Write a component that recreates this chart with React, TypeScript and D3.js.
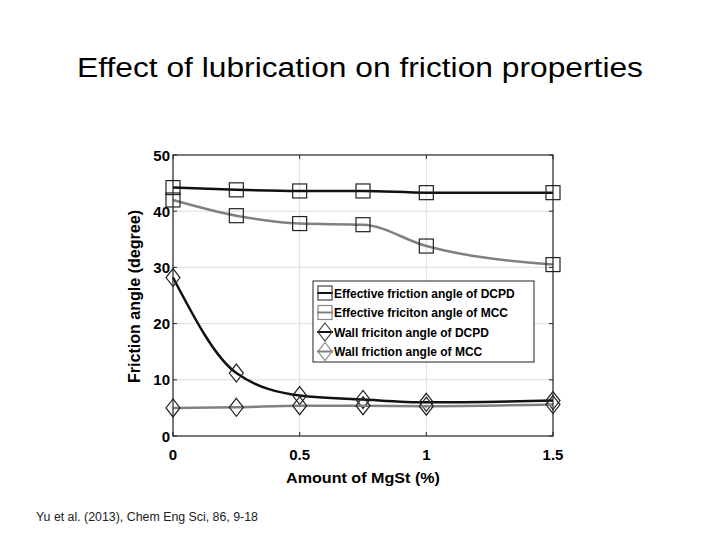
import React from 'react';
import * as d3 from 'd3';

const mgst = [0, 0.25, 0.5, 0.75, 1, 1.5];
const effDcpd = [44.2, 43.8, 43.6, 43.6, 43.3, 43.3];
const effMcc = [42.0, 39.2, 37.8, 37.6, 33.8, 30.5];
const wallDcpd = [28.2, 11.2, 7.2, 6.5, 6.0, 6.3];
const wallMcc = [5.0, 5.1, 5.4, 5.4, 5.3, 5.6];
const xTicks = [0, 0.5, 1, 1.5];
const yTicks = [0, 10, 20, 30, 40, 50];

const series = [
  { name: 'Effective friction angle of DCPD', values: effDcpd, color: '#111', marker: 'square' },
  { name: 'Effective friciton angle of MCC', values: effMcc, color: '#808080', marker: 'square' },
  { name: 'Wall friciton angle of DCPD', values: wallDcpd, color: '#111', marker: 'diamond' },
  { name: 'Wall friction angle of MCC', values: wallMcc, color: '#808080', marker: 'diamond' },
];

const W = 720;
const H = 540;
const plot = { left: 173, right: 553, top: 155, bottom: 436 };

const Marker: React.FC<{ type: string; x: number; y: number; stroke: string }> = ({ type, x, y, stroke }) => {
  if (type === 'square') {
    return <rect x={x - 7} y={y - 7} width={14} height={14} fill="none" stroke={stroke} strokeWidth={1.2} />;
  }
  const d = `M${x},${y - 9}L${x + 7},${y}L${x},${y + 9}L${x - 7},${y}Z`;
  return <path d={d} fill="none" stroke={stroke} strokeWidth={1.2} />;
};

const App: React.FC = () => {
  const x = d3.scaleLinear().domain([0, 1.5]).range([plot.left, plot.right]);
  const y = d3.scaleLinear().domain([0, 50]).range([plot.bottom, plot.top]);

  const line = d3
    .line<number>()
    .x((_, i) => x(mgst[i]))
    .y(d => y(d))
    .curve(d3.curveMonotoneX);

  const font = 'Arial, "Liberation Sans", sans-serif';
  const legend = { x: 313, y: 281, w: 221, h: 81 };

  return (
    <svg width={W} height={H} style={{ position: 'absolute', left: 0, top: 0 }} fontFamily={font}>
      <rect width={W} height={H} fill="#fff" />
      <text x={77} y={77} fontSize={27} fill="#000" textLength={566} lengthAdjust="spacingAndGlyphs">
        Effect of lubrication on friction properties
      </text>

      {/* grid */}
      {yTicks.slice(1, -1).map(t => (
        <line key={'gy' + t} x1={plot.left} x2={plot.right} y1={y(t)} y2={y(t)} stroke="#ddd" strokeWidth={1} />
      ))}
      {xTicks.slice(1, -1).map(t => (
        <line key={'gx' + t} x1={x(t)} x2={x(t)} y1={plot.top} y2={plot.bottom} stroke="#ddd" strokeWidth={1} />
      ))}

      {/* series */}
      {series.map(s => (
        <g key={s.name}>
          <path d={line(s.values) || ''} fill="none" stroke={s.color} strokeWidth={2.5} />
          {s.values.map((v, i) => (
            <Marker key={i} type={s.marker} x={x(mgst[i])} y={y(v)} stroke="#222" />
          ))}
        </g>
      ))}

      {/* frame */}
      <rect x={plot.left} y={plot.top} width={plot.right - plot.left} height={plot.bottom - plot.top} fill="none" stroke="#222" strokeWidth={1.2} />
      {yTicks.map(t => (
        <g key={'yt' + t}>
          <line x1={plot.left} x2={plot.left + 4} y1={y(t)} y2={y(t)} stroke="#222" />
          <line x1={plot.right} x2={plot.right - 4} y1={y(t)} y2={y(t)} stroke="#222" />
          <text x={plot.left - 3} y={y(t) + 5.5} textAnchor="end" fontSize={15} fontWeight="bold">{t}</text>
        </g>
      ))}
      {xTicks.map(t => (
        <g key={'xt' + t}>
          <line x1={x(t)} x2={x(t)} y1={plot.bottom} y2={plot.bottom - 4} stroke="#222" />
          <line x1={x(t)} x2={x(t)} y1={plot.top} y2={plot.top + 4} stroke="#222" />
          <text x={x(t)} y={460} textAnchor="middle" fontSize={15} fontWeight="bold">{t}</text>
        </g>
      ))}
      <text x={286} y={483} fontSize={15} fontWeight="bold" textLength={154} lengthAdjust="spacingAndGlyphs">
        Amount of MgSt (%)
      </text>
      <text transform="translate(140,383) rotate(-90)" fontSize={16} fontWeight="bold" textLength={173} lengthAdjust="spacingAndGlyphs">
        Friction angle (degree)
      </text>

      {/* legend */}
      <rect x={legend.x} y={legend.y} width={legend.w} height={legend.h} fill="#fff" stroke="#222" strokeWidth={1} />
      {series.map((s, i) => {
        const ly = legend.y + 12 + i * 19.5;
        return (
          <g key={'lg' + i}>
            <line x1={legend.x + 4} x2={legend.x + 20} y1={ly} y2={ly} stroke={s.color} strokeWidth={2} />
            <Marker type={s.marker} x={legend.x + 12} y={ly} stroke={i % 2 ? '#888' : '#444'} />
            <text x={legend.x + 21} y={ly + 4.5} fontSize={12} fontWeight="bold">{s.name}</text>
          </g>
        );
      })}

      <text x={36} y={521} fontSize={12} fill="#222" textLength={222} lengthAdjust="spacingAndGlyphs">
        Yu et al. (2013), Chem Eng Sci, 86, 9-18
      </text>
    </svg>
  );
};

export default App;
